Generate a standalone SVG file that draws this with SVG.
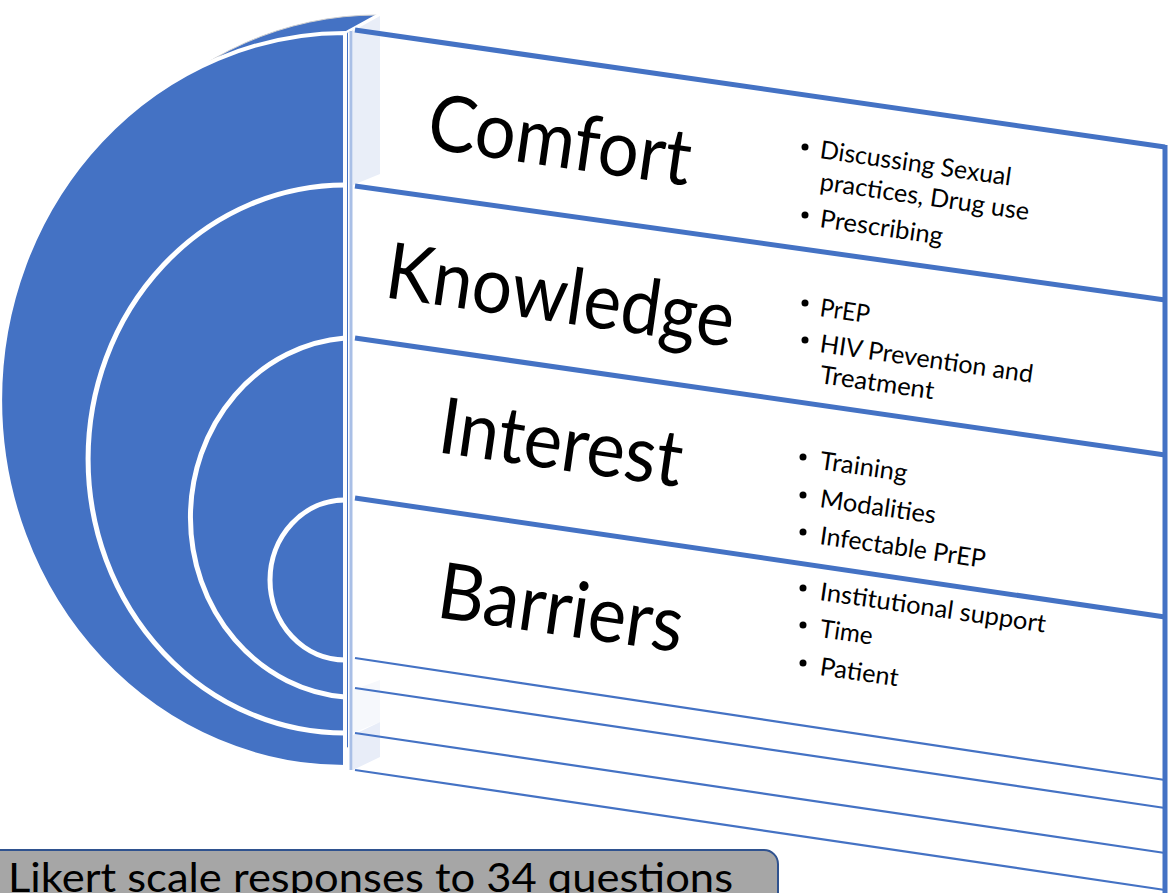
<svg xmlns="http://www.w3.org/2000/svg" width="1170" height="893" viewBox="0 0 1170 893">
<style>
.blue{fill:#4472c4}
.arc{fill:none;stroke:#fff;stroke-width:5}
.band{stroke:#4472c4;stroke-width:5;fill:none}
.thin{stroke:#4472c4;stroke-width:2.2;fill:none}
.big{font-family:Lato,"Open Sans","Liberation Sans",sans-serif;font-size:78px;fill:#000}
.small{font-family:Lato,"Open Sans","Liberation Sans",sans-serif;font-size:25px;fill:#000}
.dot{fill:#000}
</style>
<rect width="1170" height="893" fill="#fff"/>
<g id="disc">
  <path d="M377,15 A345,367 0 0 0 377,749 Z" class="blue" stroke="#d0d0d0" stroke-width="1"/>
  <polygon points="348,33 378,15 392,15 392,795 348,795" fill="#fff"/>
  <path d="M345,33 A345,367 0 0 0 345,767 Z" class="blue" stroke="#fff" stroke-width="4"/>
  <line x1="347" y1="32" x2="378" y2="15" stroke="#fff" stroke-width="3"/>
  <polygon points="353,31 380,16 380,174 353,185" fill="#e9eef8"/>
  <polygon points="353,690 380,680 380,722 353,733" fill="#f6f8fc"/>
  <polygon points="353,735 380,722 380,757 353,770" fill="#e8edf8"/>
  <path class="arc" d="M345,185 A257,274 0 0 0 345,733"/>
  <path class="arc" d="M345,338 A167,180 0 0 0 345,697"/>
  <path class="arc" d="M345,500 A75,80 0 0 0 345,660"/>
  <line x1="351" y1="31" x2="351" y2="770" stroke="#a9bfe6" stroke-width="3"/>
</g>
<g id="connectors">
  <line class="band" x1="355" y1="30" x2="1165" y2="147"/>
  <line class="band" x1="355" y1="186" x2="1165" y2="300"/>
  <line class="band" x1="355" y1="338" x2="1165" y2="455"/>
  <line class="band" x1="355" y1="498" x2="1165" y2="617"/>
  <line class="thin" x1="355" y1="658" x2="1165" y2="780"/>
  <line class="thin" x1="355" y1="688" x2="1165" y2="808"/>
  <line class="thin" x1="355" y1="733" x2="1165" y2="853"/>
  <line class="thin" x1="355" y1="770" x2="1165" y2="890"/>
  <line class="band" x1="1165" y1="145" x2="1165" y2="893"/>
</g>
<g id="comfort">
  <text class="big" x="425" y="148" textLength="265" lengthAdjust="spacingAndGlyphs" transform="rotate(8.2 425 148)">Comfort</text>
  <circle class="dot" cx="805" cy="147" r="3.5"/>
  <text class="small" x="819" y="158" textLength="193" lengthAdjust="spacingAndGlyphs" transform="rotate(8.2 819 158)">Discussing Sexual</text>
  <text class="small" x="819" y="190" textLength="211" lengthAdjust="spacingAndGlyphs" transform="rotate(8.2 819 190)">practices, Drug use</text>
  <circle class="dot" cx="805" cy="215" r="3.5"/>
  <text class="small" x="819" y="227" textLength="124" lengthAdjust="spacingAndGlyphs" transform="rotate(8.2 819 227)">Prescribing</text>
</g>
<g id="knowledge">
  <text class="big" x="383" y="297" textLength="351" lengthAdjust="spacingAndGlyphs" transform="rotate(8.2 383 297)">Knowledge</text>
  <circle class="dot" cx="805" cy="303" r="3.5"/>
  <text class="small" x="819" y="316" textLength="50" lengthAdjust="spacingAndGlyphs" transform="rotate(8.2 819 316)">PrEP</text>
  <circle class="dot" cx="805" cy="340" r="3.5"/>
  <text class="small" x="819" y="352" textLength="215" lengthAdjust="spacingAndGlyphs" transform="rotate(8.2 819 352)">HIV Prevention and</text>
  <text class="small" x="819" y="383" textLength="115" lengthAdjust="spacingAndGlyphs" transform="rotate(8.2 819 383)">Treatment</text>
</g>
<g id="interest">
  <text class="big" x="436" y="452" textLength="245" lengthAdjust="spacingAndGlyphs" transform="rotate(8.2 436 452)">Interest</text>
  <circle class="dot" cx="803" cy="457" r="3.5"/>
  <text class="small" x="819" y="469" textLength="88" lengthAdjust="spacingAndGlyphs" transform="rotate(8.2 819 469)">Training</text>
  <circle class="dot" cx="803" cy="495" r="3.5"/>
  <text class="small" x="819" y="507" textLength="117" lengthAdjust="spacingAndGlyphs" transform="rotate(8.2 819 507)">Modalities</text>
  <circle class="dot" cx="803" cy="532" r="3.5"/>
  <text class="small" x="819" y="544" textLength="167" lengthAdjust="spacingAndGlyphs" transform="rotate(8.2 819 544)">Infectable PrEP</text>
</g>
<g id="barriers">
  <text class="big" x="435" y="617" textLength="247" lengthAdjust="spacingAndGlyphs" transform="rotate(8.2 435 617)">Barriers</text>
  <circle class="dot" cx="803" cy="588" r="3.5"/>
  <text class="small" x="819" y="600" textLength="228" lengthAdjust="spacingAndGlyphs" transform="rotate(8.2 819 600)">Institutional support</text>
  <circle class="dot" cx="803" cy="625" r="3.5"/>
  <text class="small" x="819" y="637" textLength="53" lengthAdjust="spacingAndGlyphs" transform="rotate(8.2 819 637)">Time</text>
  <circle class="dot" cx="803" cy="663" r="3.5"/>
  <text class="small" x="819" y="675" textLength="79" lengthAdjust="spacingAndGlyphs" transform="rotate(8.2 819 675)">Patient</text>
</g>
<g id="likert">
  <rect x="-20" y="850" width="798" height="80" rx="14" fill="#a6a6a6" stroke="#2f528f" stroke-width="2"/>
  <text x="8" y="892" textLength="725" lengthAdjust="spacingAndGlyphs" style="font-family:Lato,'Open Sans','Liberation Sans',sans-serif;font-size:40px;fill:#000">Likert scale responses to 34 questions</text>
</g>
</svg>
